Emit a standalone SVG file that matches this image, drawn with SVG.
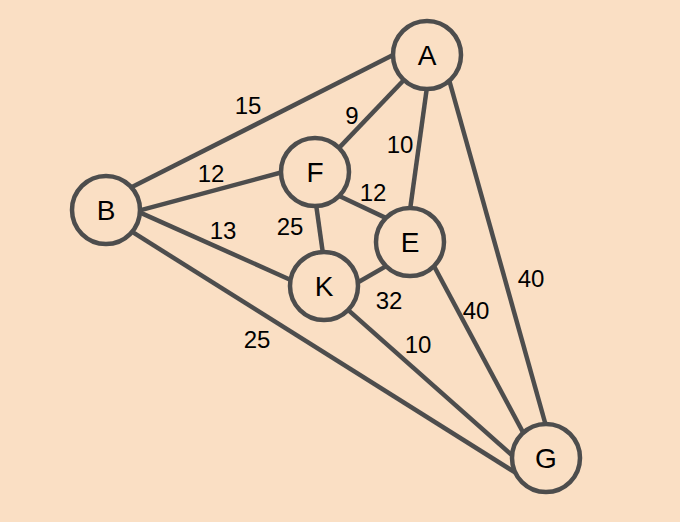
<svg xmlns="http://www.w3.org/2000/svg" width="680" height="522" viewBox="0 0 680 522">
<style>
.bg{fill:#FADFC4}
.edge{stroke:#4D4D4D;stroke-width:4.5;stroke-linecap:butt;fill:none}
.node circle{fill:#FADFC4;stroke:#4D4D4D;stroke-width:4.5}
.node text{font-family:"Liberation Sans",Arial,sans-serif;font-size:28px;fill:#000;text-anchor:middle}
.lbl{font-family:"Liberation Sans",Arial,sans-serif;font-size:24px;fill:#000;text-anchor:middle}
</style>
<rect class="bg" x="0" y="0" width="680" height="522"/>
<g id="connectors">
<line class="edge" x1="129.5" y1="188.3" x2="395" y2="54.1"/>
<line class="edge" x1="138" y1="210.9" x2="283" y2="172"/>
<line class="edge" x1="138" y1="211.6" x2="292.4" y2="280.7"/>
<line class="edge" x1="130.3" y1="230.7" x2="518.7" y2="474.7"/>
<line class="edge" x1="405.3" y1="78.5" x2="337.6" y2="149.4"/>
<line class="edge" x1="427" y1="87" x2="410" y2="210"/>
<line class="edge" x1="448.7" y1="78.5" x2="546" y2="426"/>
<line class="edge" x1="337.2" y1="195" x2="387.8" y2="218.9"/>
<line class="edge" x1="316" y1="204" x2="323" y2="254"/>
<line class="edge" x1="355.9" y1="283.5" x2="387.9" y2="265.1"/>
<line class="edge" x1="346.6" y1="308.6" x2="514" y2="457.1"/>
<line class="edge" x1="433" y1="264.2" x2="524.2" y2="434.5"/>
</g>
<g id="edge-labels">
<text class="lbl" x="248" y="114">15</text>
<text class="lbl" x="211" y="182">12</text>
<text class="lbl" x="223" y="239">13</text>
<text class="lbl" x="257" y="348">25</text>
<text class="lbl" x="352" y="124">9</text>
<text class="lbl" x="400" y="153">10</text>
<text class="lbl" x="373" y="201">12</text>
<text class="lbl" x="290" y="235">25</text>
<text class="lbl" x="389" y="309">32</text>
<text class="lbl" x="418" y="353">10</text>
<text class="lbl" x="476" y="319">40</text>
<text class="lbl" x="531" y="287">40</text>
</g>
<g id="node-A" class="node"><circle cx="427" cy="55" r="34"/><text x="427" y="65">A</text></g>
<g id="node-B" class="node"><circle cx="106" cy="210" r="34"/><text x="106" y="220">B</text></g>
<g id="node-F" class="node"><circle cx="315" cy="172" r="34"/><text x="315" y="182">F</text></g>
<g id="node-E" class="node"><circle cx="410" cy="242" r="34"/><text x="410" y="252">E</text></g>
<g id="node-K" class="node"><circle cx="324" cy="286" r="34"/><text x="324" y="296">K</text></g>
<g id="node-G" class="node"><circle cx="546" cy="458" r="34"/><text x="546" y="468">G</text></g>
</svg>
